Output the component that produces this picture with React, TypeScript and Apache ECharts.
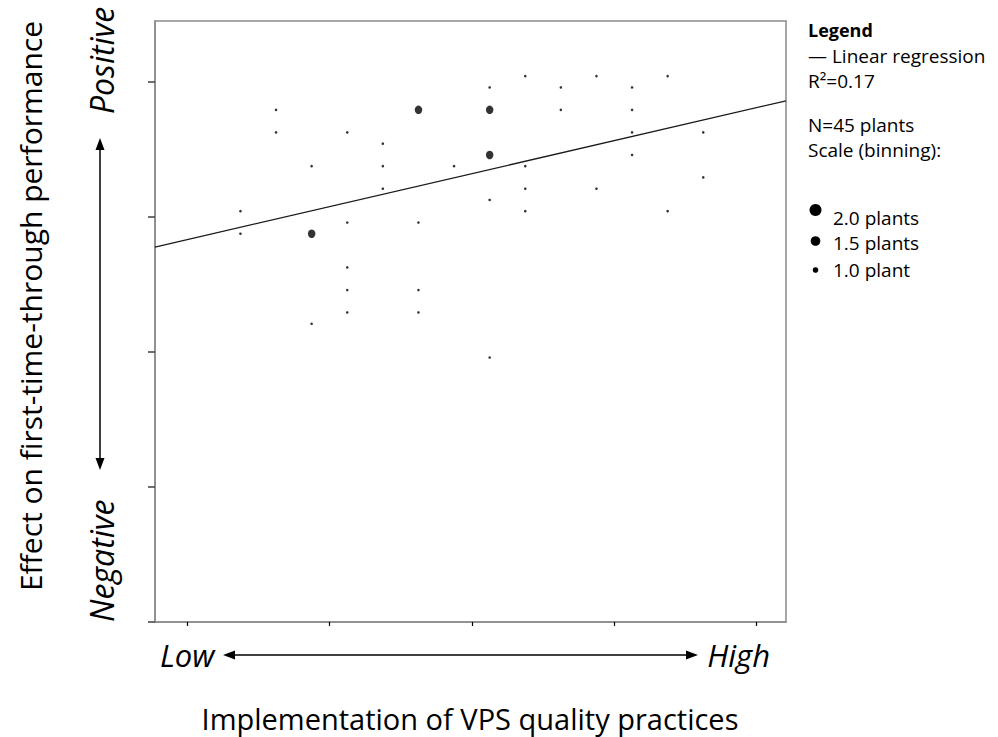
import React, { useEffect, useRef } from "react";
import * as echarts from "echarts";

// Tick positions (labels hidden in the reference)
const xTickValues = [1, 2, 3, 4, 5];
const yTickValues = [0, 1, 2, 3, 4];

// 1.0-plant points
const singleX = [
  1.375, 1.375,
  1.625, 1.625,
  1.875, 1.875,
  2.125, 2.125, 2.125, 2.125, 2.125,
  2.375, 2.375, 2.375,
  2.625, 2.625, 2.625,
  2.875,
  3.125, 3.125, 3.125,
  3.375, 3.375, 3.375, 3.375,
  3.625, 3.625,
  3.875, 3.875,
  4.125, 4.125, 4.125, 4.125,
  4.375, 4.375,
  4.625, 4.625,
];
const singleY = [
  3.042, 2.875,
  3.792, 3.625,
  3.375, 2.208,
  3.625, 2.958, 2.625, 2.458, 2.292,
  3.542, 3.375, 3.208,
  2.958, 2.458, 2.292,
  3.375,
  3.958, 3.125, 1.958,
  4.042, 3.375, 3.208, 3.042,
  3.958, 3.792,
  4.042, 3.208,
  3.958, 3.792, 3.625, 3.458,
  4.042, 3.042,
  3.625, 3.292,
];

// 2.0-plant points (binned)
const doubleX = [1.875, 2.625, 3.125, 3.125];
const doubleY = [2.875, 3.792, 3.792, 3.458];

// Linear regression line end points
const regX = [0.775, 5.206];
const regY = [2.776, 3.859];

const xMin = 0.775;
const xMax = 5.206;
const yMin = 0;
const yMax = 4.45;

const yTitle = "Effect on first-time-through performance";
const xTitle = "Implementation of VPS quality practices";
const lowLabel = "Low";
const highLabel = "High";
const posLabel = "Positive";
const negLabel = "Negative";

const legendLines = [
  { text: "Legend", bold: true },
  { text: "— Linear regression", bold: false },
  { text: "R²=0.17", bold: false },
  { text: "N=45 plants", bold: false },
  { text: "Scale (binning):", bold: false },
];
const scaleLabels = ["2.0 plants", "1.5 plants", "1.0 plant"];

const FONT = "'Open Sans', 'Noto Sans', sans-serif";

export default function App() {
  const ref = useRef<HTMLDivElement>(null);

  useEffect(() => {
    if (!ref.current) return;
    const chart = echarts.init(ref.current, undefined, { renderer: "svg" });

    const singleData = singleX.map((x, i) => [x, singleY[i]]);
    const doubleData = doubleX.map((x, i) => [x, doubleY[i]]);
    const regData = regX.map((x, i) => [x, regY[i]]);

    const legendYs = [30, 56, 81, 125, 150];
    const scaleYs = [218, 243, 270];
    const markerYs = [210, 241, 270];
    const markerR = [6, 4.8, 2.8];

    const graphics: any[] = [];
    // Y title
    graphics.push({
      type: "text",
      x: 30,
      y: 306,
      rotation: Math.PI / 2,
      style: {
        text: yTitle,
        font: `30px ${FONT}`,
        fill: "#000",
        textAlign: "center",
        textVerticalAlign: "middle",
      },
    });
    // X title
    graphics.push({
      type: "text",
      x: 470,
      y: 718,
      style: {
        text: xTitle,
        font: `29px ${FONT}`,
        fill: "#000",
        textAlign: "center",
        textVerticalAlign: "middle",
      },
    });
    // Low / High
    graphics.push({
      type: "text",
      x: 160,
      y: 655,
      style: {
        text: lowLabel,
        font: `italic 31px ${FONT}`,
        fill: "#000",
        textAlign: "left",
        textVerticalAlign: "middle",
      },
    });
    graphics.push({
      type: "text",
      x: 770,
      y: 655,
      style: {
        text: highLabel,
        font: `italic 31px ${FONT}`,
        fill: "#000",
        textAlign: "right",
        textVerticalAlign: "middle",
      },
    });
    // Positive / Negative
    graphics.push({
      type: "text",
      x: 101,
      y: 114,
      rotation: Math.PI / 2,
      style: {
        text: posLabel,
        font: `italic 32px ${FONT}`,
        fill: "#000",
        textAlign: "left",
        textVerticalAlign: "middle",
      },
    });
    graphics.push({
      type: "text",
      x: 101,
      y: 622,
      rotation: Math.PI / 2,
      style: {
        text: negLabel,
        font: `italic 32px ${FONT}`,
        fill: "#000",
        textAlign: "left",
        textVerticalAlign: "middle",
      },
    });
    // Horizontal arrow
    graphics.push({
      type: "line",
      shape: { x1: 232, y1: 655, x2: 689, y2: 655 },
      style: { stroke: "#000", lineWidth: 1.5 },
    });
    graphics.push({
      type: "polygon",
      shape: { points: [[223, 655], [235, 650.5], [235, 659.5]] },
      style: { fill: "#000" },
    });
    graphics.push({
      type: "polygon",
      shape: { points: [[698, 655], [686, 650.5], [686, 659.5]] },
      style: { fill: "#000" },
    });
    // Vertical arrow
    graphics.push({
      type: "line",
      shape: { x1: 100, y1: 147, x2: 100, y2: 461 },
      style: { stroke: "#000", lineWidth: 1.5 },
    });
    graphics.push({
      type: "polygon",
      shape: { points: [[100, 138], [95.5, 150], [104.5, 150]] },
      style: { fill: "#000" },
    });
    graphics.push({
      type: "polygon",
      shape: { points: [[100, 470], [95.5, 458], [104.5, 458]] },
      style: { fill: "#000" },
    });
    // Legend text
    legendLines.forEach((l, i) => {
      graphics.push({
        type: "text",
        x: 808,
        y: legendYs[i],
        style: {
          text: l.text,
          font: `${l.bold ? "bold 18px" : "19px"} ${FONT}`,
          fill: "#000",
          textAlign: "left",
          textVerticalAlign: "middle",
        },
      });
    });
    scaleLabels.forEach((s, i) => {
      graphics.push({
        type: "circle",
        shape: { cx: 815.5, cy: markerYs[i], r: markerR[i] },
        style: { fill: "#000" },
      });
      graphics.push({
        type: "text",
        x: 833,
        y: scaleYs[i],
        style: {
          text: s,
          font: `19px ${FONT}`,
          fill: "#000",
          textAlign: "left",
          textVerticalAlign: "middle",
        },
      });
    });

    chart.setOption({
      animation: false,
      backgroundColor: "#fff",
      grid: {
        left: 155,
        top: 21,
        right: 212,
        bottom: 115,
        show: true,
        borderColor: "#8a8a8a",
        borderWidth: 1.5,
        backgroundColor: "transparent",
      },
      xAxis: {
        type: "value",
        min: xMin,
        max: xMax,
        axisLine: { show: true, onZero: false, lineStyle: { color: "#8a8a8a", width: 1.5 } },
        axisTick: {
          show: true,
          customValues: xTickValues,
          length: 4,
          lineStyle: { color: "#000", width: 1.2 },
        },
        axisLabel: { show: false },
        splitLine: { show: false },
      },
      yAxis: {
        type: "value",
        min: yMin,
        max: yMax,
        interval: 1,
        axisLine: { show: true, onZero: false, lineStyle: { color: "#8a8a8a", width: 1.5 } },
        axisTick: {
          show: true,
          customValues: yTickValues,
          length: 7,
          lineStyle: { color: "#404040", width: 1.5 },
        },
        axisLabel: { show: false },
        splitLine: { show: false },
      },
      series: [
        {
          name: "Linear regression",
          type: "line",
          data: regData,
          showSymbol: false,
          symbol: "none",
          lineStyle: { color: "#1a1a1a", width: 1.3 },
          z: 3,
        },
        {
          name: "1.0 plant",
          type: "scatter",
          data: singleData,
          symbol: "circle",
          symbolSize: 2.6,
          itemStyle: { color: "#000" },
          z: 4,
        },
        {
          name: "2.0 plants",
          type: "scatter",
          data: doubleData,
          symbol: "circle",
          symbolSize: [7.5, 8.5],
          itemStyle: { color: "#000" },
          z: 4,
        },
      ],
      graphic: graphics,
    });

    return () => {
      chart.dispose();
    };
  }, []);

  return (
    <div
      ref={ref}
      style={{ position: "absolute", left: 0, top: 0, width: 998, height: 737 }}
    />
  );
}
